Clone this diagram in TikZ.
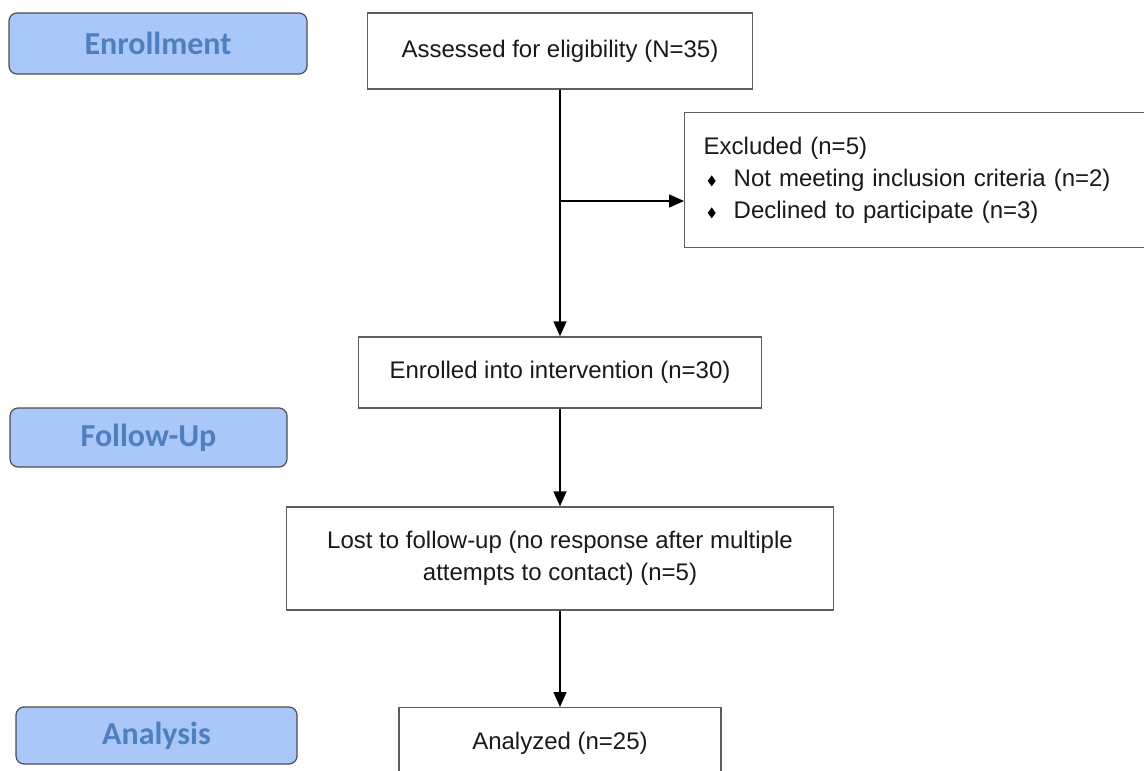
\documentclass[tikz,border=0pt]{standalone}
\usepackage{fontspec}
\setmainfont{Liberation Sans}
\newfontfamily\carlito{Carlito}
\usetikzlibrary{arrows.meta}
\definecolor{labfill}{HTML}{A9C7F9}
\definecolor{labtext}{HTML}{4E7FBF}
\definecolor{labdraw}{HTML}{4D4D4D}
\definecolor{boxdraw}{HTML}{5E5E5E}
\newcommand{\dmd}{\makebox[26pt][l]{\tikz[baseline=0pt,x=1pt,y=1pt]\fill[black] (4,0)--(8,5.5)--(4,11)--(0,5.5)--cycle;}}
\tikzset{
  phase/.style={draw=labdraw, line width=1.2pt, fill=labfill, rounded corners=8pt,
    font=\carlito\bfseries\fontsize{32}{38}\selectfont, text=labtext, inner sep=0pt},
  flowbox/.style={draw=boxdraw, line width=1.4pt, fill=white, inner sep=0pt,
    font=\fontsize{24}{32}\selectfont, text=black!90},
  arr/.style={draw=black, line width=1.5pt, -{Triangle[length=15pt,width=13pt]}}
}
\begin{document}
\begin{tikzpicture}[x=1pt,y=-1pt]
\clip (0,0) rectangle (1144,771);
\fill[white] (0,0) rectangle (1144,771);
% phase labels
\node[phase, minimum width=298pt, minimum height=61pt] (enr) at (158,43.5) {Enrollment};
\node[phase, minimum width=277pt, minimum height=59pt] (fu) at (148.5,437.5) {Follow-Up};
\node[phase, minimum width=281pt, minimum height=57pt] (ana) at (156.5,735.5) {Analysis};
% flow boxes
\node[flowbox, minimum width=385pt, minimum height=76pt] (assess) at (560,51) {Assessed for eligibility (N=35)};
\node[flowbox, anchor=north west, minimum width=500pt, minimum height=135pt,
      text width=462pt, inner xsep=19pt, align=left] (excl) at (684,112)
  {Excluded (n=5)\\
   \hspace*{4pt}\dmd Not meeting inclusion criteria (n=2)\\
   \hspace*{4pt}\dmd Declined to participate (n=3)};
\node[flowbox, minimum width=403pt, minimum height=71pt] (enrolled) at (560,372.5) {Enrolled into intervention (n=30)};
\node[flowbox, minimum width=547pt, minimum height=103pt, align=center] (lost) at (560,558.5)
  {Lost to follow-up (no response after multiple\\attempts to contact) (n=5)};
\node[flowbox, anchor=north, minimum width=322pt, text height=42pt, text depth=60pt] (analyzed) at (560,707) {Analyzed (n=25)};
% connectors
\coordinate (br) at (560,201);
\draw[arr] (assess.south) -- (enrolled.north);
\draw[arr] (br) -- (br -| excl.west);
\draw[arr] (enrolled.south) -- (lost.north);
\draw[arr] (lost.south) -- (analyzed.north);
\end{tikzpicture}
\end{document}
